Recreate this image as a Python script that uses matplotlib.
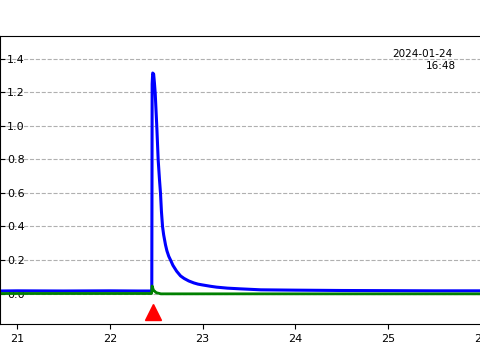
import matplotlib
matplotlib.use('Agg')
import matplotlib.pyplot as plt

# blue trace
blue_x = [20.816, 21.0, 21.5, 22.0, 22.3, 22.452, 22.456, 22.462, 22.472, 22.480,
          22.489, 22.506, 22.521, 22.535, 22.546, 22.556, 22.568, 22.580, 22.600,
          22.615, 22.635, 22.654, 22.680, 22.720, 22.762, 22.800, 22.850, 22.906,
          22.950, 23.000, 23.086, 23.150, 23.267, 23.400, 23.627, 24.0, 24.5,
          25.0, 25.5, 26.0]
blue_y = [0.015, 0.016, 0.015, 0.016, 0.015, 0.015, 1.25, 1.316, 1.31, 1.26,
          1.195, 0.996, 0.797, 0.68, 0.598, 0.49, 0.399, 0.35, 0.29,
          0.255, 0.222, 0.20, 0.168, 0.133, 0.105, 0.09, 0.075, 0.063,
          0.056, 0.051, 0.043, 0.038, 0.032, 0.028, 0.022, 0.020, 0.018,
          0.017, 0.016, 0.016]

# green trace
green_x = [20.816, 22.0, 22.450, 22.456, 22.470, 22.500, 22.550, 24.0, 26.0]
green_y = [0.0, 0.0, 0.0, 0.045, 0.02, 0.005, -0.002, -0.002, -0.002]

# event marker
event_x = [22.465]
event_y = [-0.109]

x_ticks = [21, 22, 23, 24, 25, 26]
y_ticks = [0.0, 0.2, 0.4, 0.6, 0.8, 1.0, 1.2, 1.4]
date_txt = '2024-01-24'
time_txt = '16:48'

fig = plt.figure(figsize=(4.8, 3.6), dpi=100)
ax = fig.add_axes([0.0, 0.1, 1.002, 0.8])

ax.plot(blue_x, blue_y, color='blue', lw=2.2)
ax.plot(green_x, green_y, color='green', lw=2.0)
ax.plot(event_x, event_y, '^', color='red', ms=12, clip_on=False)

ax.set_xlim(20.816, 26.0)
ax.set_ylim(-0.182, 1.537)
ax.set_xticks(x_ticks)
ax.set_yticks(y_ticks)
ax.set_yticklabels([f'{v:.1f}' for v in y_ticks])
ax.grid(axis='y', color='#b0b0b0', linestyle='--', lw=0.8)

ax.tick_params(axis='x', labelsize=8)
ax.tick_params(axis='y', direction='in', labelsize=8, pad=-5)
for lab in ax.get_yticklabels():
    lab.set_ha('left')

ax.text(0.940, 0.955, date_txt, transform=ax.transAxes, ha='right', va='top',
        fontsize=7.5)
ax.text(0.948, 0.913, time_txt, transform=ax.transAxes, ha='right', va='top',
        fontsize=7.5)

fig.savefig('out.png', dpi=100)
